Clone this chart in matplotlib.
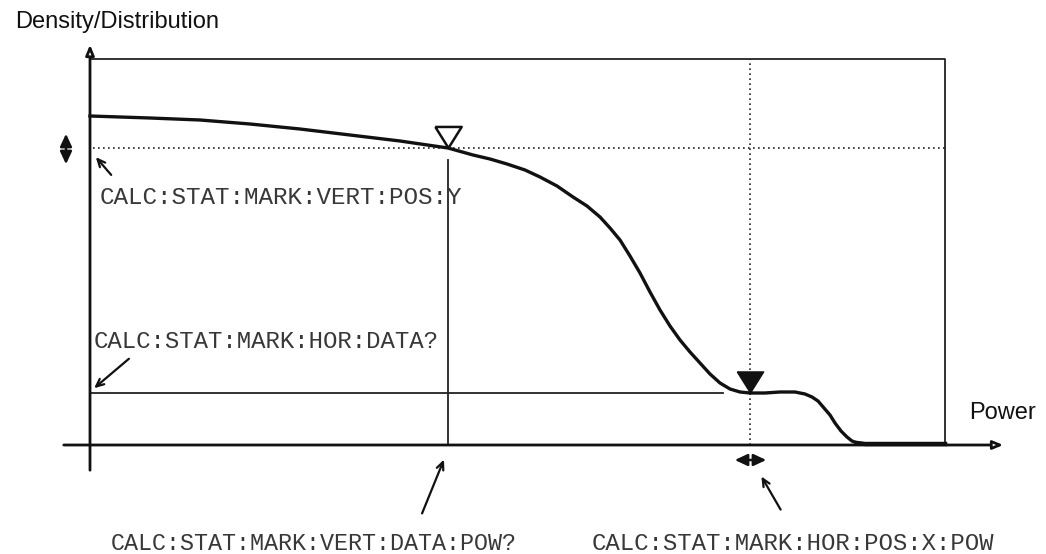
"""Statistics marker diagram: density/distribution vs power"""

import matplotlib
matplotlib.use('Agg')
import matplotlib.pyplot as plt

# Curve (power, density), arbitrary units
power = [0, 60, 110, 160, 210, 260, 310, 358, 383, 400, 417, 435, 450, 467,
         483, 497, 510, 520, 530, 540, 550, 560, 570, 580, 590, 600, 610, 620,
         630, 640, 650, 660, 675, 690, 705, 715, 722, 728, 734, 740, 745, 751,
         757, 762, 767, 775, 855]
density = [329, 327, 325, 321, 316, 310, 304, 297, 290, 286, 281, 275, 268, 259,
           248, 239, 228, 217, 205, 189, 172, 153, 135, 119, 105, 93, 82, 71,
           62, 56, 53, 52, 52, 53, 53, 51, 48, 44, 37, 30, 22, 14,
           8, 4, 2, 1, 1]

# Marker settings
vert_pos_y = 297          # vertical marker level (CALC:STAT:MARK:VERT:POS:Y)
vert_power = 358          # power at vertical marker
hor_pos_x = 660           # horizontal marker power (CALC:STAT:MARK:HOR:POS:X)
hor_level = 52            # density at horizontal marker
box_right = 855
box_top = 386

mono = 'Liberation Mono'
sans = 'Liberation Sans'
txt_col = '#383838'

fig = plt.figure(figsize=(10.46, 5.54), dpi=100)
ax = fig.add_axes([0, 0, 1, 1])
ax.set_xlim(-90, 956)
ax.set_ylim(-109, 445)
ax.axis('off')

# Frame of the display
ax.plot([0, box_right, box_right], [box_top, box_top, 0], color='#222', lw=1.3)

# Axes with open arrow heads
ax.annotate('', xy=(0, 403), xytext=(0, -28),
            arrowprops=dict(arrowstyle='-|>,head_length=0.6,head_width=0.25',
                            lw=2.0, color='#111', fc='white'))
ax.annotate('', xy=(916, 0), xytext=(-29, 0),
            arrowprops=dict(arrowstyle='-|>,head_length=0.6,head_width=0.25',
                            lw=2.0, color='#111', fc='white'))

# Marker lines
ax.plot([3, box_right], [vert_pos_y, vert_pos_y], ls=(0, (1, 2)), color='#222', lw=1.2)
ax.plot([hor_pos_x, hor_pos_x], [0, box_top], ls=(0, (1, 2)), color='#222', lw=1.2)
ax.plot([vert_power, vert_power], [0, 285], color='#222', lw=1.3)
ax.plot([0, 633], [hor_level, hor_level], color='#222', lw=1.3)

# Curve
ax.plot(power, density, color='#111', lw=2.4, solid_joinstyle='round')
ax.plot(power[-3:], density[-3:], color='#111', lw=3.2)

# Triangle markers
tri = [(-1.25, 1), (1.25, 1), (0, -1), (-1.25, 1)]
ax.plot([vert_power], [vert_pos_y + 11], marker=tri, ms=19, mfc='white',
        mec='#111', mew=1.8, ls='none')
ax.plot([hor_pos_x], [hor_level + 11.5], marker=tri, ms=19, mfc='#111',
        mec='#111', ls='none')

# Double arrows for adjustable positions
dbl = dict(arrowstyle='<|-|>,head_length=0.75,head_width=0.35', lw=1.8, color='#111')
ax.annotate('', xy=(-24, 314), xytext=(-24, 278), arrowprops=dbl)
ax.annotate('', xy=(642, -15), xytext=(679, -15), arrowprops=dbl)

# Pointer arrows
pointer = dict(arrowstyle='->,head_length=0.55,head_width=0.25', lw=1.6, color='#111')
ax.annotate('', xy=(4, 290), xytext=(23, 268), arrowprops=pointer)
ax.annotate('', xy=(2, 55), xytext=(41, 88), arrowprops=pointer)
ax.annotate('', xy=(355, -12), xytext=(331, -71), arrowprops=pointer)
ax.annotate('', xy=(670, -29), xytext=(692, -67), arrowprops=pointer)

# Labels
ax.text(-75, 423, 'Density/Distribution', family=sans, fontsize=17,
        va='center', ha='left', color='#111')
ax.text(879, 32, 'Power', family=sans, fontsize=17, va='center', ha='left',
        color='#111')
ax.text(10, 247, 'CALC:STAT:MARK:VERT:POS:Y', family=mono, fontsize=17.5,
        va='center', ha='left', color=txt_col)
ax.text(4, 103, 'CALC:STAT:MARK:HOR:DATA?', family=mono, fontsize=17.3,
        va='center', ha='left', color=txt_col)
ax.text(427, -98, 'CALC:STAT:MARK:VERT:DATA:POW?', family=mono, fontsize=16.8,
        va='center', ha='right', color=txt_col)
ax.text(502, -98, 'CALC:STAT:MARK:HOR:POS:X:POW', family=mono, fontsize=17.3,
        va='center', ha='left', color=txt_col)

fig.savefig('out.png', dpi=100)
